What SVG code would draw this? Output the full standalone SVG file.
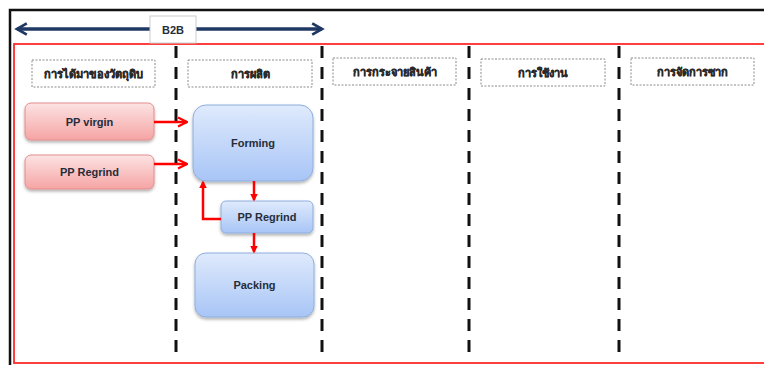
<svg xmlns="http://www.w3.org/2000/svg" width="764" height="365" viewBox="0 0 764 365">
<style>
.hdr{fill:#fff;stroke:#8a8a8a;stroke-width:1;stroke-dasharray:2 1.5}
.ht{font-family:"Liberation Sans","Noto Sans",sans-serif;font-size:11px;font-weight:bold;fill:#2a2a2a;stroke:#2a2a2a;stroke-width:0.35;text-anchor:middle}
.nt{font-family:"Liberation Sans",sans-serif;font-size:11px;font-weight:bold;fill:#262d3a;text-anchor:middle}
.lane{stroke:#111;stroke-width:3;stroke-dasharray:12 9}
.red{fill:url(#gr);stroke:#E38C8C;stroke-width:1}
.blue{fill:url(#gb);stroke:#8EAEDD;stroke-width:1}
.c{fill:none;stroke:#FF0000;stroke-width:2.5}
</style>
<defs>
<linearGradient id="gr" x1="0" y1="0" x2="0" y2="1"><stop offset="0" stop-color="#FCE3E3"/><stop offset="1" stop-color="#F6A4A4"/></linearGradient>
<linearGradient id="gb" x1="0" y1="0" x2="0" y2="1"><stop offset="0" stop-color="#DFEAFC"/><stop offset="1" stop-color="#A8C5F6"/></linearGradient>
<filter id="sh" x="-10%" y="-10%" width="130%" height="140%"><feDropShadow dx="0" dy="2" stdDeviation="1.5" flood-color="#000" flood-opacity="0.3"/></filter>
<marker id="chev" viewBox="0 0 10 10" refX="9" refY="5" markerWidth="4.5" markerHeight="4.5" orient="auto" markerUnits="strokeWidth"><path d="M1,1 L9,5 L1,9" fill="none" stroke="#FF0000" stroke-width="1.8"/></marker>
<marker id="tri" viewBox="0 0 10 10" refX="8" refY="5" markerWidth="3" markerHeight="3" orient="auto" markerUnits="strokeWidth"><path d="M0,0 L10,5 L0,10 Z" fill="#FF0000"/></marker>
<marker id="navy" viewBox="0 0 10 10" refX="8" refY="5" markerWidth="4" markerHeight="4" orient="auto-start-reverse" markerUnits="strokeWidth"><path d="M1,1 L8,5 L1,9" fill="none" stroke="#1F3864" stroke-width="2"/></marker>
</defs>
<rect x="0" y="0" width="764" height="365" fill="#fff"/>
<rect x="10" y="10" width="780" height="380" fill="none" stroke="#111" stroke-width="2.5"/>
<rect x="14" y="44" width="780" height="319" fill="none" stroke="#FF2A2A" stroke-width="1.8"/>
<g id="b2b">
<line x1="17" y1="29" x2="322" y2="29" stroke="#1F3864" stroke-width="3.5" marker-start="url(#navy)" marker-end="url(#navy)"/>
<rect x="150" y="16" width="46" height="27" fill="#fff" stroke="#ccc" stroke-width="1"/>
<text class="nt" x="173" y="33.5">B2B</text>
</g>
<g id="lanes">
<line class="lane" x1="176" y1="46" x2="176" y2="360"/>
<line class="lane" x1="322" y1="46" x2="322" y2="360"/>
<line class="lane" x1="469" y1="46" x2="469" y2="360"/>
<line class="lane" x1="619" y1="46" x2="619" y2="360"/>
</g>
<g id="h1"><rect class="hdr" x="32" y="60" width="123" height="27"/><text class="ht" x="93.5" y="78">การได้มาของวัตถุดิบ</text></g>
<g id="h2"><rect class="hdr" x="188" y="60" width="124" height="27"/><text class="ht" x="250" y="78">การผลิต</text></g>
<g id="h3"><rect class="hdr" x="333" y="58" width="123" height="27"/><text class="ht" x="394.5" y="76">การกระจายสินค้า</text></g>
<g id="h4"><rect class="hdr" x="481" y="59" width="124" height="27"/><text class="ht" x="543" y="77">การใช้งาน</text></g>
<g id="h5"><rect class="hdr" x="631" y="58" width="123" height="27"/><text class="ht" x="692.5" y="76">การจัดการซาก</text></g>
<g id="ppvirgin"><rect class="red" x="25" y="103" width="129" height="37" rx="6" filter="url(#sh)"/><text class="nt" x="89.5" y="125.5">PP virgin</text></g>
<g id="ppregrind1"><rect class="red" x="25" y="155" width="129" height="34" rx="6" filter="url(#sh)"/><text class="nt" x="89.5" y="176">PP Regrind</text></g>
<g id="forming"><rect class="blue" x="193" y="105" width="120" height="76" rx="13" filter="url(#sh)"/><text class="nt" x="253" y="147">Forming</text></g>
<g id="ppregrind2"><rect class="blue" x="221" y="201" width="92" height="32" rx="5" filter="url(#sh)"/><text class="nt" x="267" y="221">PP Regrind</text></g>
<g id="packing"><rect class="blue" x="195" y="253" width="119" height="64" rx="11" filter="url(#sh)"/><text class="nt" x="254.5" y="289">Packing</text></g>
<g id="connectors">
<line class="c" x1="154" y1="122" x2="187" y2="122" marker-end="url(#chev)"/>
<line class="c" x1="154" y1="164" x2="187" y2="164" marker-end="url(#chev)"/>
<line class="c" x1="254" y1="181" x2="254" y2="200" marker-end="url(#tri)"/>
<polyline class="c" points="221,219 203,219 203,182" marker-end="url(#tri)"/>
<line class="c" x1="254" y1="233" x2="254" y2="252" marker-end="url(#tri)"/>
</g>
</svg>
